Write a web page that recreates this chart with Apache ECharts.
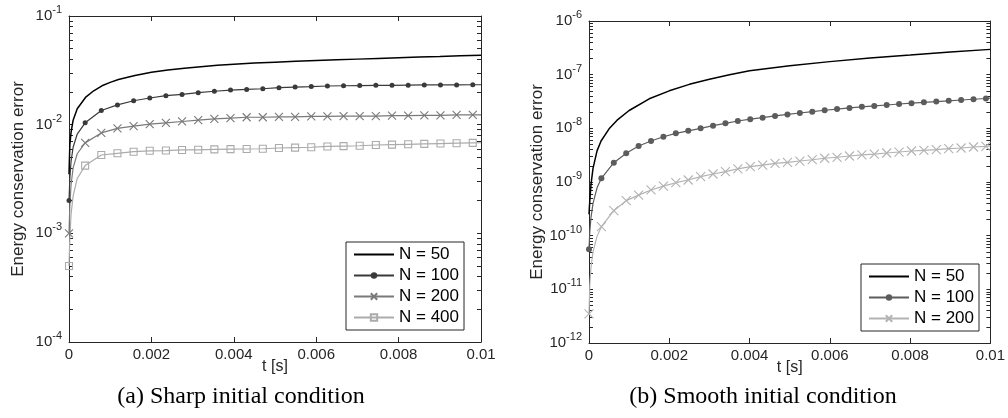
<!DOCTYPE html>
<html>
<head>
<meta charset="utf-8">
<script src="https://cdn.jsdelivr.net/npm/echarts@6/dist/echarts.min.js"></script>
<style>
html,body{margin:0;padding:0;background:#fff;}
#chart{width:1008px;height:418px;}
</style>
</head>
<body>
<div id="chart"></div>
<script>
// ---------- tick labels ----------
const tickX = [0, 0.002, 0.004, 0.006, 0.008, 0.01];
const decadesA = [1e-4, 1e-3, 1e-2, 1e-1];
const decadesB = [1e-12, 1e-11, 1e-10, 1e-9, 1e-8, 1e-7, 1e-6];
const minorMultipliers = [2, 3, 4, 5, 6, 7, 8, 9];

// ---------- series names ----------
const namesA = ['N = 50', 'N = 100', 'N = 200', 'N = 400'];
const namesB = ['N = 50', 'N = 100', 'N = 200'];

// ---------- (a) Sharp initial condition ----------
const tA50 = [0, 0.00002, 0.00005, 0.0001, 0.0002, 0.0004, 0.0006, 0.0008, 0.001, 0.0012, 0.0016, 0.002, 0.0024, 0.0028, 0.0032, 0.0036, 0.004, 0.0045, 0.005, 0.0055, 0.006, 0.0065, 0.007, 0.0075, 0.008, 0.0085, 0.009, 0.0095, 0.01];
const yA50 = [3.5e-3, 6.5e-3, 8.5e-3, 1.1e-2, 1.4e-2, 1.78e-2, 2.05e-2, 2.28e-2, 2.45e-2, 2.6e-2, 2.84e-2, 3.03e-2, 3.18e-2, 3.31e-2, 3.42e-2, 3.52e-2, 3.6e-2, 3.69e-2, 3.76e-2, 3.83e-2, 3.89e-2, 3.95e-2, 4.01e-2, 4.07e-2, 4.13e-2, 4.19e-2, 4.24e-2, 4.3e-2, 4.35e-2];

const tMarkA = [0, 0.000392, 0.000784, 0.001176, 0.001568, 0.00196, 0.002352, 0.002744, 0.003136, 0.003528, 0.00392, 0.004312, 0.004704, 0.005096, 0.005488, 0.00588, 0.006272, 0.006664, 0.007056, 0.007448, 0.00784, 0.008232, 0.008624, 0.009016, 0.009408, 0.0098];
const tLeadA = [0.00002, 0.00005, 0.0001, 0.0002];
const tEndA = 0.01;

const yA100Mark = [2.0e-3, 1.04e-2, 1.35e-2, 1.52e-2, 1.66e-2, 1.76e-2, 1.85e-2, 1.90e-2, 1.97e-2, 2.03e-2, 2.08e-2, 2.11e-2, 2.14e-2, 2.19e-2, 2.22e-2, 2.24e-2, 2.27e-2, 2.28e-2, 2.29e-2, 2.30e-2, 2.30e-2, 2.31e-2, 2.32e-2, 2.32e-2, 2.32e-2, 2.33e-2];
const yA100Lead = [3.2e-3, 4.6e-3, 6.2e-3, 8.2e-3];
const yA100End = 2.33e-2;

const yA200Mark = [1.0e-3, 6.8e-3, 8.4e-3, 9.25e-3, 9.7e-3, 1.01e-2, 1.04e-2, 1.07e-2, 1.10e-2, 1.13e-2, 1.15e-2, 1.17e-2, 1.17e-2, 1.18e-2, 1.18e-2, 1.19e-2, 1.19e-2, 1.20e-2, 1.20e-2, 1.20e-2, 1.21e-2, 1.21e-2, 1.22e-2, 1.22e-2, 1.23e-2, 1.23e-2];
const yA200Lead = [1.8e-3, 2.8e-3, 4.0e-3, 5.4e-3];
const yA200End = 1.23e-2;

const yA400Mark = [5.0e-4, 4.2e-3, 5.26e-3, 5.45e-3, 5.64e-3, 5.75e-3, 5.78e-3, 5.85e-3, 5.87e-3, 5.93e-3, 5.95e-3, 5.97e-3, 6.0e-3, 6.1e-3, 6.15e-3, 6.2e-3, 6.3e-3, 6.35e-3, 6.4e-3, 6.5e-3, 6.55e-3, 6.6e-3, 6.65e-3, 6.7e-3, 6.75e-3, 6.8e-3];
const yA400Lead = [9e-4, 1.5e-3, 2.2e-3, 3.2e-3];
const yA400End = 6.82e-3;

// ---------- (b) Smooth initial condition ----------
const tB50 = [0, 0.00002, 0.00005, 0.0001, 0.0002, 0.0003, 0.0005, 0.0007, 0.001, 0.0015, 0.002, 0.0025, 0.003, 0.0035, 0.004, 0.005, 0.006, 0.007, 0.008, 0.009, 0.01];
const yB50 = [2.5e-10, 4.5e-10, 9.0e-10, 1.8e-9, 3.8e-9, 5.8e-9, 9.8e-9, 1.42e-8, 2.15e-8, 3.55e-8, 5.0e-8, 6.6e-8, 8.2e-8, 1.0e-7, 1.18e-7, 1.47e-7, 1.75e-7, 2.04e-7, 2.32e-7, 2.64e-7, 2.96e-7];

const tMarkB = [0, 0.000309, 0.000618, 0.000927, 0.001236, 0.001545, 0.001854, 0.002163, 0.002472, 0.002781, 0.00309, 0.003399, 0.003708, 0.004017, 0.004326, 0.004635, 0.004944, 0.005253, 0.005562, 0.005871, 0.00618, 0.006489, 0.006798, 0.007107, 0.007416, 0.007725, 0.008034, 0.008343, 0.008652, 0.008961, 0.00927, 0.009579, 0.009888];
const tLeadB = [0.00002, 0.00005, 0.0001, 0.0002];
const tEndB = 0.01;

const yB100Mark = [5.6e-11, 1.17e-9, 2.29e-9, 3.42e-9, 4.68e-9, 5.8e-9, 6.98e-9, 8.07e-9, 9.0e-9, 1.0e-8, 1.12e-8, 1.24e-8, 1.37e-8, 1.48e-8, 1.58e-8, 1.7e-8, 1.82e-8, 1.93e-8, 2.04e-8, 2.17e-8, 2.28e-8, 2.4e-8, 2.52e-8, 2.62e-8, 2.72e-8, 2.84e-8, 2.94e-8, 3.05e-8, 3.15e-8, 3.26e-8, 3.37e-8, 3.48e-8, 3.6e-8];
const yB100Lead = [1.2e-10, 2.2e-10, 4.0e-10, 7.8e-10];
const yB100End = 3.65e-8;

const yB200Mark = [3.5e-12, 1.47e-10, 2.92e-10, 4.5e-10, 5.7e-10, 7.1e-10, 8.4e-10, 9.7e-10, 1.09e-9, 1.26e-9, 1.41e-9, 1.56e-9, 1.75e-9, 1.93e-9, 2.07e-9, 2.23e-9, 2.33e-9, 2.46e-9, 2.6e-9, 2.77e-9, 2.89e-9, 3.05e-9, 3.19e-9, 3.32e-9, 3.47e-9, 3.62e-9, 3.78e-9, 3.89e-9, 4.0e-9, 4.18e-9, 4.3e-9, 4.49e-9, 4.62e-9];
const yB200Lead = [1.2e-11, 2.6e-11, 5e-11, 9.7e-11];
const yB200End = 4.7e-9;

// ---------- helpers ----------
const axisColor = '#262626';
const sansFont = '"Liberation Sans", Arial, Helvetica, sans-serif';

function logTicks(decades) {
  const out = [];
  decades.forEach(function (d, i) {
    out.push(d);
    if (i < decades.length - 1) minorMultipliers.forEach(function (m) { out.push(m * d); });
  });
  return out;
}

function plainData(ts, ys) { return ts.map(function (t, i) { return [t, ys[i]]; }); }

function markedData(tMark, yMark, tLead, yLead, tEnd, yEnd) {
  const out = [[tMark[0], yMark[0]]];
  tLead.forEach(function (t, i) { out.push({ value: [t, yLead[i]], symbol: 'none' }); });
  for (let i = 1; i < tMark.length; i++) out.push([tMark[i], yMark[i]]);
  out.push({ value: [tEnd, yEnd], symbol: 'none' });
  return out;
}

function supLabel(v) {
  const e = Math.round(Math.log10(v));
  return '{b|10}{s|' + e + '}';
}

function makeX(gridIndex, top) {
  return {
    type: 'value', gridIndex: gridIndex, position: top ? 'top' : 'bottom',
    min: 0, max: 0.01,
    axisLine: { show: true, onZero: false, lineStyle: { color: axisColor, width: 1 } },
    axisTick: { show: true, inside: true, length: 5, customValues: tickX, lineStyle: { color: axisColor } },
    axisLabel: { show: !top, customValues: tickX, color: axisColor, fontSize: 15, fontFamily: sansFont, margin: 5 },
    splitLine: { show: false },
    name: top ? '' : 't [s]', nameLocation: 'middle', nameGap: 17, nameMoveOverlap: false,
    nameTextStyle: { color: axisColor, fontSize: 16, fontFamily: sansFont }
  };
}

function makeY(gridIndex, right, decades) {
  return {
    type: 'log', logBase: 10, gridIndex: gridIndex, position: right ? 'right' : 'left',
    min: decades[0], max: decades[decades.length - 1],
    axisLine: { show: true, onZero: false, lineStyle: { color: axisColor, width: 1 } },
    axisTick: { show: true, inside: true, length: 4, customValues: logTicks(decades), lineStyle: { color: axisColor } },
    axisLabel: {
      show: !right, customValues: decades, margin: 7, formatter: supLabel,
      rich: {
        b: { fontSize: 15, color: axisColor, fontFamily: sansFont },
        s: { fontSize: 11, color: axisColor, fontFamily: sansFont, padding: [0, 0, 12, 0] }
      }
    },
    minorTick: { show: false },
    splitLine: { show: false },
    name: right ? '' : 'Energy conservation error', nameLocation: 'middle', nameGap: 42, nameRotate: 90,
    nameTextStyle: { color: axisColor, fontSize: 17, fontFamily: sansFont }
  };
}

function lineSeries(name, xi, yi, data, color, width, symbol, size, filled) {
  return {
    type: 'line', name: name, xAxisIndex: xi, yAxisIndex: yi, data: data,
    smooth: false, showSymbol: symbol !== 'none', showAllSymbol: true,
    symbol: symbol, symbolSize: size, animation: false,
    lineStyle: { color: color, width: width },
    itemStyle: filled ? { color: color } : { color: 'rgba(0,0,0,0)', borderColor: color, borderWidth: 1.1 },
    emphasis: { disabled: true }, z: 3
  };
}

const xSym = 'path://M0,0L10,10M10,0L0,10';

const cA = { n50: '#000000', n100: '#3a3a3a', n200: '#7a7a7a', n400: '#ababab' };
const cB = { n50: '#000000', n100: '#5c5c5c', n200: '#b3b3b3' };

const chart = echarts.init(document.getElementById('chart'), null, { renderer: 'canvas' });

const legendBase = {
  orient: 'vertical', itemWidth: 40, itemHeight: 8, itemGap: 4,
  padding: [4, 5, 4, 7], borderColor: axisColor, borderWidth: 1, borderRadius: 0,
  backgroundColor: '#ffffff', selectedMode: false,
  textStyle: { fontSize: 17, color: '#000', fontFamily: sansFont }
};

chart.setOption({
  animation: false,
  backgroundColor: '#ffffff',
  grid: [
    { left: 69, top: 16, width: 412, height: 326, containLabel: false },
    { left: 589, top: 21, width: 406, height: 322, containLabel: false }
  ],
  xAxis: [makeX(0, false), makeX(0, true), makeX(1, false), makeX(1, true)],
  yAxis: [
    makeY(0, false, decadesA), makeY(0, true, decadesA),
    makeY(1, false, decadesB), makeY(1, true, decadesB)
  ],
  legend: [
    Object.assign({}, legendBase, {
      left: 346, top: 242,
      data: [
        { name: namesA[0], itemStyle: { opacity: 0 } },
        namesA[1], namesA[2], namesA[3]
      ]
    }),
    Object.assign({}, legendBase, {
      left: 861, top: 264,
      data: [
        { name: namesB[0], itemStyle: { opacity: 0 } },
        { name: namesB[1], itemStyle: { color: cB.n100 }, lineStyle: { color: cB.n100 } },
        { name: namesB[2], itemStyle: { color: 'rgba(0,0,0,0)', borderColor: cB.n200 }, lineStyle: { color: cB.n200 } }
      ]
    })
  ],
  series: [
    lineSeries(namesA[0], 0, 0, plainData(tA50, yA50), cA.n50, 1.5, 'none', 0, true),
    lineSeries(namesA[1], 0, 0, markedData(tMarkA, yA100Mark, tLeadA, yA100Lead, tEndA, yA100End), cA.n100, 1.2, 'circle', 5, true),
    lineSeries(namesA[2], 0, 0, markedData(tMarkA, yA200Mark, tLeadA, yA200Lead, tEndA, yA200End), cA.n200, 1.2, xSym, 8, false),
    lineSeries(namesA[3], 0, 0, markedData(tMarkA, yA400Mark, tLeadA, yA400Lead, tEndA, yA400End), cA.n400, 1.2, 'rect', 7, false),
    lineSeries(namesB[0], 2, 2, plainData(tB50, yB50), cB.n50, 1.5, 'none', 0, true),
    lineSeries(namesB[1], 2, 2, markedData(tMarkB, yB100Mark, tLeadB, yB100Lead, tEndB, yB100End), cB.n100, 1.2, 'circle', 6, true),
    lineSeries(namesB[2], 2, 2, markedData(tMarkB, yB200Mark, tLeadB, yB200Lead, tEndB, yB200End), cB.n200, 1.2, xSym, 9, false)
  ],
  graphic: [
    { type: 'text', x: 241, y: 397, style: { text: '(a) Sharp initial condition', font: '24px "Liberation Serif", "DejaVu Serif", serif', fill: '#000', textAlign: 'center', textVerticalAlign: 'middle', align: 'center', verticalAlign: 'middle' } },
    { type: 'text', x: 763, y: 397, style: { text: '(b) Smooth initial condition', font: '24px "Liberation Serif", "DejaVu Serif", serif', fill: '#000', textAlign: 'center', textVerticalAlign: 'middle', align: 'center', verticalAlign: 'middle' } }
  ]
});
</script>
</body>
</html>
